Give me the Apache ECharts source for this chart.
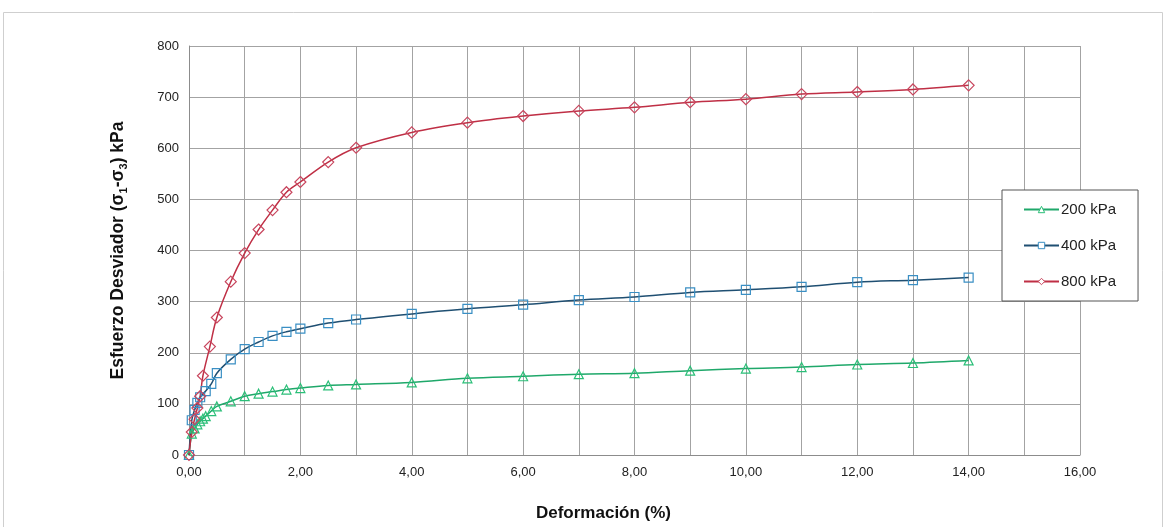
<!DOCTYPE html>
<html>
<head>
<meta charset="utf-8">
<script src="https://cdn.jsdelivr.net/npm/echarts@6/dist/echarts.min.js"></script>
<style>
  html, body { margin: 0; padding: 0; background: #ffffff; }
  #chart { width: 1166px; height: 527px; }
</style>
</head>
<body>
<div id="chart"></div>
<script>
// Curvas esfuerzo-deformación, ensayo triaxial a tres presiones de confinamiento
var strain200 = [0, 0.05, 0.1, 0.15, 0.2, 0.25, 0.3, 0.4, 0.5, 0.75, 1, 1.25, 1.5, 1.75, 2, 2.5, 3, 4, 5, 6, 7, 8, 9, 10, 11, 12, 13, 14];
var stress200 = [0, 42, 52, 60, 66, 71, 76, 86, 95, 105, 115, 120, 124, 128, 131, 136, 138, 142, 150, 154, 158, 160, 165, 169, 172, 177, 180, 185];

var strain400 = [0, 0.05, 0.1, 0.15, 0.2, 0.3, 0.4, 0.5, 0.75, 1, 1.25, 1.5, 1.75, 2, 2.5, 3, 4, 5, 6, 7, 8, 9, 10, 11, 12, 13, 14];
var stress400 = [0, 68, 88, 102, 113, 125, 139, 160, 187, 207, 221, 233, 241, 247, 258, 265, 276, 286, 294, 303, 309, 318, 323, 329, 338, 342, 347];

var strain800 = [0, 0.05, 0.1, 0.15, 0.2, 0.25, 0.375, 0.5, 0.75, 1, 1.25, 1.5, 1.75, 2, 2.5, 3, 4, 5, 6, 7, 8, 9, 10, 11, 12, 13, 14];
var stress800 = [0, 45, 70, 92, 115, 155, 212, 269, 339, 395, 441, 479, 514, 534, 573, 601, 631, 650, 663, 673, 680, 690, 696, 706, 710, 715, 723];

var seriesNames = ['200 kPa', '400 kPa', '800 kPa'];

function pairs(xs, ys) {
  return xs.map(function (x, i) { return [x, ys[i]]; });
}

function curve(name, xs, ys, lineColor, markColor, symbol, size) {
  return {
    name: name,
    type: 'line',
    smooth: 0.35,
    data: pairs(xs, ys),
    symbol: symbol,
    symbolSize: size,
    showAllSymbol: true,
    lineStyle: { color: lineColor, width: 1.5 },
    itemStyle: { color: 'rgba(255,255,255,0)', borderColor: markColor, borderWidth: 1.2 },
    emphasis: { disabled: true },
    z: 3
  };
}

var chart = echarts.init(document.getElementById('chart'), null, { renderer: 'canvas' });

chart.setOption({
  backgroundColor: '#ffffff',
  animation: false,
  textStyle: { fontFamily: 'Liberation Sans, Arial, sans-serif' },
  graphic: [{
    type: 'rect',
    shape: { x: 3.5, y: 12.5, width: 1159, height: 530 },
    style: { fill: 'none', stroke: '#cfcfcf', lineWidth: 1 },
    silent: true,
    z: -10
  }],
  grid: { left: 189, right: 86, top: 46, bottom: 71, containLabel: false },
  legend: {
    orient: 'vertical',
    left: 1002,
    top: 190,
    padding: [12, 22, 12, 21],
    itemGap: 21,
    itemWidth: 35,
    itemHeight: 8,
    backgroundColor: '#ffffff',
    borderColor: '#555555',
    borderWidth: 1,
    itemStyle: { color: '#ffffff', borderWidth: 1 },
    textStyle: { fontSize: 15, color: '#222222', padding: [0, 0, 0, -3] },
    data: seriesNames
  },
  xAxis: {
    type: 'value',
    min: 0,
    max: 16,
    interval: 1,
    name: 'Deformación (%)',
    nameLocation: 'middle',
    nameGap: 50,
    nameTextStyle: { fontSize: 17, fontWeight: 'bold', color: '#111111', padding: [0, 62, 0, 0] },
    axisLine: { lineStyle: { color: '#8c8c8c', width: 1 } },
    axisTick: { show: false },
    splitLine: { lineStyle: { color: '#a3a3a3', width: 1 } },
    axisLabel: {
      fontSize: 13,
      color: '#222222',
      margin: 11,
      formatter: function (v) {
        return (Math.round(v) % 2 === 0) ? v.toFixed(2).replace('.', ',') : '';
      }
    }
  },
  yAxis: {
    type: 'value',
    min: 0,
    max: 800,
    interval: 100,
    name: '{t|Esfuerzo Desviador (σ}{s|1}{t|-σ}{s|3}{t|) kPa}',
    nameLocation: 'middle',
    nameGap: 60,
    nameTextStyle: {
      rich: {
        t: { fontSize: 17.5, fontWeight: 'bold', color: '#111111', lineHeight: 22, verticalAlign: 'middle' },
        s: { fontSize: 11, fontWeight: 'bold', color: '#111111', lineHeight: 22, verticalAlign: 'bottom' }
      }
    },
    axisLine: { show: true, lineStyle: { color: '#8c8c8c', width: 1 } },
    axisTick: { show: false },
    splitLine: { lineStyle: { color: '#a3a3a3', width: 1 } },
    axisLabel: { fontSize: 13, color: '#222222', margin: 10 }
  },
  series: [
    curve(seriesNames[0], strain200, stress200, '#1fa86a', '#2bbf78', 'triangle', 9),
    curve(seriesNames[1], strain400, stress400, '#1f4f72', '#3a8fc4', 'rect', 9),
    curve(seriesNames[2], strain800, stress800, '#bf2f45', '#c8465e', 'diamond', 11)
  ]
});
</script>
</body>
</html>
